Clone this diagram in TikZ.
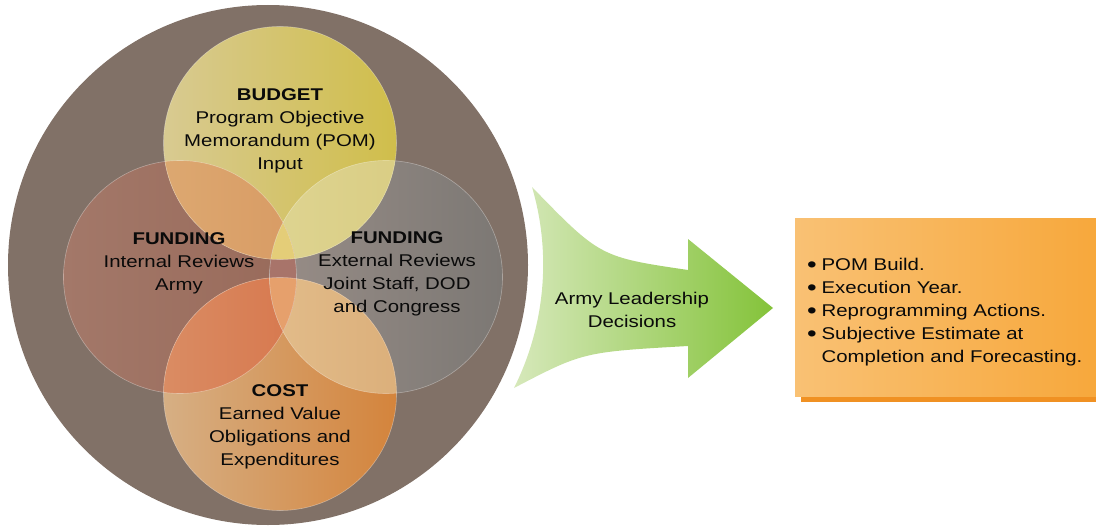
\documentclass[tikz,border=0pt]{standalone}
\usepackage{fontspec}
\setmainfont{Liberation Sans}[FakeStretch=1.2]
\definecolor{txt}{RGB}{10,10,10}
\definecolor{bigbrown}{RGB}{129,113,103}
\definecolor{topA}{RGB}{216,202,145}
\definecolor{topB}{RGB}{208,190,75}
\definecolor{leftA}{RGB}{163,120,105}
\definecolor{leftB}{RGB}{152,106,90}
\definecolor{rightA}{RGB}{152,141,135}
\definecolor{rightB}{RGB}{124,120,116}
\definecolor{botA}{RGB}{214,175,132}
\definecolor{botB}{RGB}{212,132,60}
\definecolor{tlA}{RGB}{224,178,122}
\definecolor{tlB}{RGB}{216,155,100}
\definecolor{trA}{RGB}{222,212,145}
\definecolor{trB}{RGB}{214,200,122}
\definecolor{blA}{RGB}{220,155,115}
\definecolor{blB}{RGB}{215,120,78}
\definecolor{brA}{RGB}{226,188,138}
\definecolor{brB}{RGB}{214,165,110}
\definecolor{lrC}{RGB}{168,116,106}
\definecolor{tlrC}{RGB}{228,205,120}
\definecolor{blrC}{RGB}{230,160,108}
\definecolor{arrA}{RGB}{214,232,186}
\definecolor{arrB}{RGB}{132,195,58}
\definecolor{boxA}{RGB}{249,193,116}
\definecolor{boxB}{RGB}{247,168,60}
\definecolor{boxShadow}{RGB}{240,145,35}
\newcommand{\bigbul}{\raisebox{-0.1em}{\scalebox{1.35}{\textbullet}}\kern0.28em}
\begin{document}
\begin{tikzpicture}[x=1pt,y=-1pt,
  lbl/.style={font=\fontsize{17}{23}\selectfont, text=txt, align=center, inner sep=0pt},
  rim/.style={draw=white, draw opacity=0.35, line width=0.6pt}]
\useasboundingbox (0,0) rectangle (1096,527);
\def\rr{116.5}
\coordinate (cO) at (268,265);
\coordinate (cT) at (280,143);
\coordinate (cL) at (180,277);
\coordinate (cR) at (386,277);
\coordinate (cB) at (280,394);
% big circle
\fill[bigbrown] (cO) circle[radius=260];
% base circles
\shade[left color=leftA, right color=leftB] (cL) circle[radius=\rr];
\shade[left color=rightA, right color=rightB] (cR) circle[radius=\rr];
\shade[left color=topA, right color=topB] (cT) circle[radius=\rr];
\shade[left color=botA, right color=botB] (cB) circle[radius=\rr];
% overlaps
\begin{scope}\clip (cT) circle[radius=\rr];
  \shade[left color=tlA, right color=tlB] (cL) circle[radius=\rr];
  \shade[left color=trA, right color=trB] (cR) circle[radius=\rr];
\end{scope}
\begin{scope}\clip (cB) circle[radius=\rr];
  \shade[left color=blA, right color=blB] (cL) circle[radius=\rr];
  \shade[left color=brA, right color=brB] (cR) circle[radius=\rr];
\end{scope}
\begin{scope}\clip (cL) circle[radius=\rr]; \clip (cR) circle[radius=\rr];
  \fill[lrC] (cR) circle[radius=\rr];
  \begin{scope}\clip (cT) circle[radius=\rr]; \fill[tlrC] (cT) circle[radius=\rr]; \end{scope}
  \begin{scope}\clip (cB) circle[radius=\rr]; \fill[blrC] (cB) circle[radius=\rr]; \end{scope}
\end{scope}
% rims
\draw[rim] (cL) circle[radius=\rr];
\draw[rim] (cR) circle[radius=\rr];
\draw[rim] (cT) circle[radius=\rr];
\draw[rim] (cB) circle[radius=\rr];
% circle texts
\node[lbl] (tBudget) at (280,131) {\textbf{BUDGET}\\Program Objective\\Memorandum (POM)\\Input};
\node[lbl] (tFundI) at (179,263) {\textbf{FUNDING}\\Internal Reviews\\Army};
\node[lbl] (tFundE) at (397,274) {\textbf{FUNDING}\\External Reviews\\Joint Staff, DOD\\and Congress};
\node[lbl] (tCost) at (280,427) {\textbf{COST}\\Earned Value\\Obligations and\\Expenditures};
% arrow
\shade[left color=arrA, right color=arrB]
  (532,187) .. controls (600,257) .. (688,270) -- (688,239) -- (773,308)
  -- (688,378) -- (688,346) .. controls (583,352) .. (514,388)
  .. controls (545.1,325.8) and (551.7,253.7) .. (532,187) -- cycle;
\node[lbl] (tArmy) at (632,310) {Army Leadership\\Decisions};
% box
\fill[boxShadow] (801,224) rectangle (1096,402);
\shade[left color=boxA, right color=boxB] (795,218) rectangle (1096,396);
\node[lbl, align=left, anchor=west] (tList) at (807,312)
  {\bigbul POM Build.\\\bigbul Execution Year.\\\bigbul Reprogramming Actions.\\\bigbul Subjective Estimate at\\\hphantom{\bigbul}Completion and Forecasting.};
\end{tikzpicture}
\end{document}
